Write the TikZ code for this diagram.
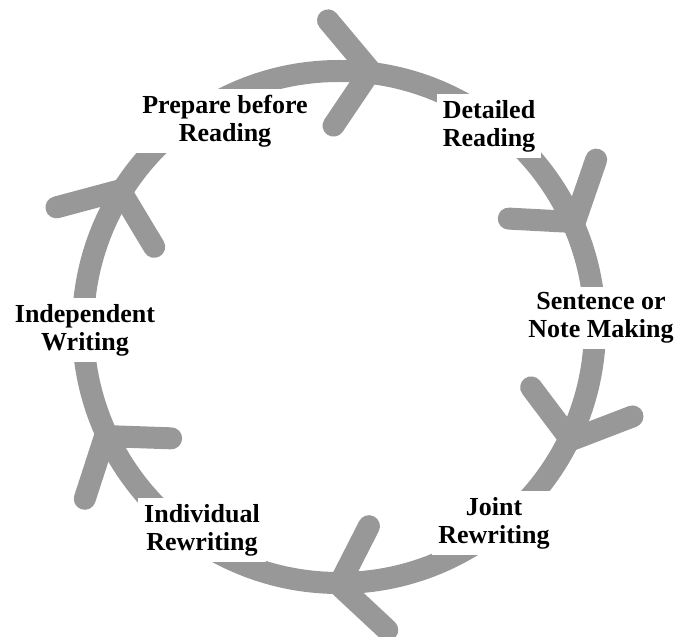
\documentclass[tikz,border=0pt]{standalone}
\usepackage{fontspec}
\setmainfont{Liberation Serif}
\definecolor{cycleGray}{RGB}{152, 152, 152}
\usetikzlibrary{calc}

\begin{document}
\begin{tikzpicture}[x=1pt, y=1pt,
        ring/.style={draw=cycleGray, line width=22pt},
        barb/.style={draw=cycleGray, line width=22pt, line cap=round, line join=round},
        stage/.style={fill=white, align=center, inner sep=6pt,
                      font=\fontsize{26}{28}\selectfont\bfseries}]
    \useasboundingbox (-339,-310) rectangle (339,327);

    % Ring of the cycle
    \draw[ring] (0,0) circle (256);

    % Arrow heads, clockwise
    \foreach \a in {83, 24, -26, -90, -155, -212} {
        \draw[barb] (\a:258) ++({\a+153}:66) -- (\a:258) -- ++({\a+47}:66);
    }

    % Stage labels
    \node[stage] (prep) at (-114,206) {Prepare before\\Reading};
    \node[stage] (detail) at (150,201) {Detailed\\Reading};
    \node[stage] (sentence) at (262,9) {Sentence or\\Note Making};
    \node[stage] (joint) at (155,-196) {Joint\\Rewriting};
    \node[stage] (indiv) at (-137,-203) {Individual\\Rewriting};
    \node[stage] (indep) at (-254,-3) {Independent\\Writing};
\end{tikzpicture}
\end{document}
